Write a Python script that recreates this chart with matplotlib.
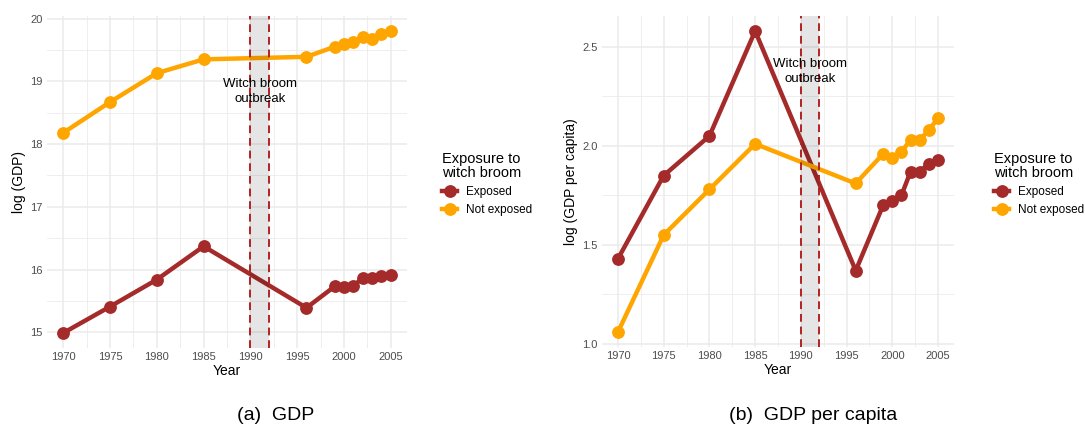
import matplotlib
matplotlib.use('Agg')
import matplotlib.pyplot as plt
import numpy as np

plt.rcParams['font.family'] = ['Liberation Sans', 'DejaVu Sans']

years = [1970, 1975, 1980, 1985, 1996, 1999, 2000, 2001, 2002, 2003, 2004, 2005]

gdp_exposed = [14.99, 15.41, 15.84, 16.37, 15.39, 15.73, 15.72, 15.74, 15.86, 15.86, 15.90, 15.92]
gdp_not_exposed = [18.18, 18.67, 19.13, 19.35, 19.39, 19.55, 19.60, 19.63, 19.70, 19.68, 19.75, 19.80]

pc_exposed = [1.43, 1.85, 2.05, 2.58, 1.37, 1.70, 1.72, 1.75, 1.87, 1.87, 1.91, 1.93]
pc_not_exposed = [1.06, 1.55, 1.78, 2.01, 1.81, 1.96, 1.94, 1.97, 2.03, 2.03, 2.08, 2.14]

outbreak_start, outbreak_end = 1990, 1992
x_ticks = [1970, 1975, 1980, 1985, 1990, 1995, 2000, 2005]

EXPOSED = '#A52A2A'
NOT_EXPOSED = '#FFA500'
GRID = '#EBEBEB'

W, H = 1085, 432
fig = plt.figure(figsize=(W / 100, H / 100), dpi=100)
fig.set_facecolor('white')


def px_axes(x0, x1, y0, y1):
    return fig.add_axes([x0 / W, 1 - y1 / H, (x1 - x0) / W, (y1 - y0) / H])


def expand(vals, frac=0.05):
    lo, hi = min(vals), max(vals)
    d = (hi - lo) * frac
    return lo - d, hi + d


def draw_panel(ax, exposed, not_exposed, y_ticks, ylabel, text_y):
    ax.plot(years, exposed, color=EXPOSED, lw=3.2, marker='o', ms=8.2, zorder=3, label='Exposed')
    ax.plot(years, not_exposed, color=NOT_EXPOSED, lw=3.2, marker='o', ms=8.2, zorder=3, label='Not exposed')
    ax.axvspan(outbreak_start, outbreak_end, color='black', alpha=0.1, lw=0, zorder=4)
    for xv in (outbreak_start, outbreak_end):
        ax.axvline(xv, color='#B22222', lw=1.4, ls=(0, (4, 2.5)), zorder=5)
    ax.text((outbreak_start + outbreak_end) / 2, text_y, 'Witch broom\noutbreak',
            ha='center', va='center', fontsize=9.5, linespacing=1.4, color='black', zorder=6)

    ax.set_xticks(x_ticks)
    ax.set_xticks([t + 2.5 for t in x_ticks] + [x_ticks[0] - 2.5], minor=True)
    ax.set_yticks(y_ticks)
    step = y_ticks[1] - y_ticks[0]
    ax.set_yticks([t + step / 2 for t in y_ticks] + [y_ticks[0] - step / 2], minor=True)
    ax.set_yticklabels([f'{t:g}' if step >= 1 else f'{t:.1f}' for t in y_ticks])
    # limits after the ticks so the extra minor ticks don't widen the view
    ax.set_xlim(*expand(years))
    ax.set_ylim(*expand(exposed + not_exposed))
    ax.grid(which='major', color=GRID, lw=1.1, zorder=0)
    ax.grid(which='minor', color=GRID, lw=0.6, zorder=0)
    ax.set_axisbelow(True)
    for s in ax.spines.values():
        s.set_visible(False)
    ax.tick_params(which='both', length=0, labelsize=8, labelcolor='#4D4D4D', pad=3)
    ax.set_xlabel('Year', fontsize=10, labelpad=1)
    ax.set_ylabel(ylabel, fontsize=10, labelpad=3)


def draw_legend(ax, x_px):
    leg = ax.legend(loc='center left', bbox_to_anchor=(x_px / W, 1 - 184 / H),
                    bbox_transform=fig.transFigure, frameon=False,
                    title='Exposure to\nwitch broom', title_fontsize=10.5, fontsize=8.5,
                    handlelength=1.3, handletextpad=0.7, borderpad=0, borderaxespad=0,
                    labelspacing=0.55, alignment='left')
    leg.get_title().set_linespacing(1.0)


ax1 = px_axes(47, 407, 16, 348)
draw_panel(ax1, gdp_exposed, gdp_not_exposed, [15, 16, 17, 18, 19, 20], 'log (GDP)', 18.84)
draw_legend(ax1, 442)

ax2 = px_axes(602, 954, 16, 347)
draw_panel(ax2, pc_exposed, pc_not_exposed, [1.0, 1.5, 2.0, 2.5], 'log (GDP per capita)', 2.376)
draw_legend(ax2, 994)

fig.text(276 / W, 1 - 416 / H, '(a)  GDP', ha='center', va='center', fontsize=14)
fig.text(813 / W, 1 - 416 / H, '(b)  GDP per capita', ha='center', va='center', fontsize=14)

fig.savefig('out.png', dpi=100)
